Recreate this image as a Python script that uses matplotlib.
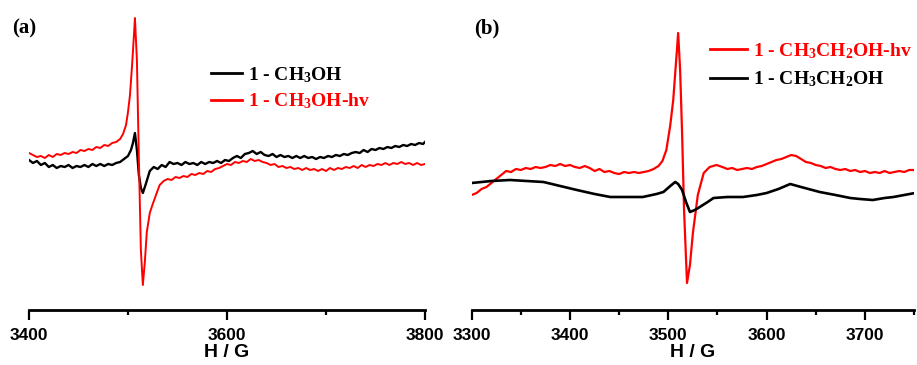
import matplotlib
matplotlib.use("Agg")
import matplotlib.pyplot as plt
from matplotlib.ticker import MultipleLocator

plt.rcParams['mathtext.default'] = 'regular'

# ---- panel (a) data: field (G) and EPR signal (a.u.) ----
H_a_black = [3400, 3404, 3408, 3412, 3416, 3420, 3424, 3428, 3432, 3436, 3440, 3444,
             3448, 3452, 3456, 3460, 3464, 3468, 3472, 3476, 3480, 3484, 3488, 3492,
             3496, 3500, 3503, 3505, 3507, 3509, 3511, 3513, 3515, 3518, 3522, 3526,
             3530, 3534, 3538, 3542, 3546, 3550, 3554, 3558, 3562, 3566, 3570, 3574,
             3578, 3582, 3586, 3590, 3594, 3598, 3602, 3606, 3610, 3614, 3618, 3622,
             3626, 3630, 3634, 3638, 3642, 3646, 3650, 3654, 3658, 3662, 3666, 3670,
             3674, 3678, 3682, 3686, 3690, 3694, 3698, 3702, 3706, 3710, 3714, 3718,
             3722, 3726, 3730, 3734, 3738, 3742, 3746, 3750, 3754, 3758, 3762, 3766,
             3770, 3774, 3778, 3782, 3786, 3790, 3794, 3798, 3800]
I_a_black = [150, 147, 149, 145, 147, 143, 145, 142, 144, 143, 145, 142,
             144, 143, 145, 143, 146, 144, 146, 144, 146, 145, 147, 148,
             151, 154, 160, 167, 177, 160, 135, 122, 117, 126, 139, 143,
             141, 145, 143, 148, 146, 147, 145, 148, 146, 147, 145, 148,
             146, 148, 147, 149, 147, 150, 149, 152, 154, 152, 156, 157,
             159, 156, 158, 155, 154, 156, 153, 155, 153, 154, 152, 154,
             152, 154, 152, 153, 151, 153, 152, 154, 153, 155, 154, 156,
             155, 157, 158, 157, 160, 158, 161, 160, 162, 161, 163, 162,
             164, 163, 165, 164, 166, 165, 167, 166, 168]

H_a_red = [3400, 3404, 3408, 3412, 3416, 3420, 3424, 3428, 3432, 3436, 3440, 3444,
           3448, 3452, 3456, 3460, 3464, 3468, 3472, 3476, 3480, 3484, 3488, 3492,
           3495, 3498, 3500, 3502, 3504, 3506, 3507, 3509, 3511, 3513, 3515, 3517,
           3519, 3522, 3525, 3529, 3532, 3536, 3540, 3544, 3548, 3552, 3556, 3560,
           3564, 3568, 3572, 3576, 3580, 3584, 3588, 3592, 3596, 3600, 3604, 3608,
           3612, 3616, 3620, 3624, 3628, 3632, 3636, 3640, 3644, 3648, 3652, 3656,
           3660, 3664, 3668, 3672, 3676, 3680, 3684, 3688, 3692, 3696, 3700, 3704,
           3708, 3712, 3716, 3720, 3724, 3728, 3732, 3736, 3740, 3744, 3748, 3752,
           3756, 3760, 3764, 3768, 3772, 3776, 3780, 3784, 3788, 3792, 3796, 3800]
I_a_red = [157, 155, 153, 154, 152, 155, 153, 156, 155, 157, 156, 158,
           157, 160, 159, 161, 160, 163, 162, 165, 164, 167, 168, 171,
           176, 185, 198, 215, 243, 275, 292, 250, 150, 60, 25, 48,
           78, 97, 106, 117, 125, 129, 131, 130, 133, 132, 134, 133,
           136, 135, 137, 136, 139, 138, 141, 142, 144, 146, 145, 148,
           147, 149, 148, 151, 149, 150, 148, 147, 145, 146, 143, 144,
           142, 143, 141, 142, 140, 142, 140, 141, 139, 141, 139, 142,
           140, 142, 141, 143, 142, 144, 142, 145, 143, 145, 144, 146,
           145, 147, 145, 147, 146, 148, 146, 147, 145, 147, 145, 146]

# ---- panel (b) data ----
H_b_red = [3300, 3305, 3310, 3315, 3320, 3325, 3330, 3335, 3340, 3345, 3350, 3355,
           3360, 3365, 3370, 3375, 3380, 3385, 3390, 3395, 3400, 3405, 3410, 3415,
           3420, 3425, 3430, 3435, 3440, 3445, 3450, 3455, 3460, 3465, 3470, 3475,
           3480, 3485, 3490, 3494, 3498, 3502, 3505, 3508, 3510, 3512, 3514, 3516,
           3519, 3522, 3525, 3530, 3536, 3542, 3549, 3555, 3560, 3565, 3570, 3575,
           3580, 3585, 3590, 3595, 3600, 3605, 3610, 3615, 3620, 3625, 3630, 3635,
           3640, 3645, 3650, 3655, 3660, 3665, 3670, 3675, 3680, 3685, 3690, 3695,
           3700, 3705, 3710, 3715, 3720, 3725, 3730, 3735, 3740, 3745, 3751]
I_b_red = [115, 117, 121, 123, 127, 131, 135, 139, 138, 141, 140, 142,
           141, 143, 142, 143, 145, 144, 146, 144, 145, 143, 142, 144,
           142, 139, 141, 138, 139, 137, 136, 138, 137, 138, 137, 138,
           139, 141, 144, 149, 160, 185, 210, 250, 277, 240, 177, 100,
           27, 45, 77, 115, 137, 143, 145, 143, 141, 142, 140, 141,
           142, 141, 143, 144, 146, 148, 150, 151, 153, 155, 154, 151,
           148, 147, 145, 144, 142, 143, 141, 140, 141, 139, 140, 138,
           139, 137, 138, 137, 139, 137, 138, 139, 138, 140, 140]

H_b_black = [3300, 3320, 3339, 3356, 3373, 3390, 3407, 3425, 3441, 3460, 3474, 3488,
             3495, 3502, 3507, 3510, 3514, 3518, 3522, 3527, 3532, 3540, 3546, 3560,
             3576, 3590, 3600, 3612, 3624, 3635, 3654, 3670, 3685, 3695, 3708, 3720,
             3729, 3740, 3751]
I_b_black = [127, 129, 130, 129, 128, 124, 120, 116, 113, 113, 113, 116,
             118, 124, 128, 126, 120, 108, 98, 100, 103, 108, 112, 113,
             113, 115, 117, 121, 126, 123, 118, 115, 112, 111, 110, 112,
             113, 115, 117]

W, Hpx = 917, 365
fig = plt.figure(figsize=(W / 100, Hpx / 100), dpi=100)

def setup_axis(ax, xmin, xmax, major, minor):
    ax.set_xlim(xmin, xmax)
    ax.set_ylim(0, 295)
    for s in ['top', 'right', 'left']:
        ax.spines[s].set_visible(False)
    ax.spines['bottom'].set_linewidth(2)
    ax.set_yticks([])
    ax.xaxis.set_major_locator(MultipleLocator(major))
    ax.xaxis.set_minor_locator(MultipleLocator(minor))
    ax.tick_params(axis='x', which='major', length=7, width=1.6, pad=6)
    ax.tick_params(axis='x', which='minor', length=3.5, width=1.6)
    for t in ax.get_xticklabels():
        t.set_fontfamily('Liberation Sans')
        t.set_fontweight('bold')
        t.set_fontsize(12.5)
    ax.set_xlabel('H / G', fontfamily='Liberation Sans', fontweight='bold',
                  fontsize=14, labelpad=1)
    ax.patch.set_visible(False)

# panel (a)
ax1 = fig.add_axes([29 / W, 55 / Hpx, 396 / W, 295 / Hpx])
ax1.plot(H_a_black, I_a_black, color='black', lw=1.7, label='1 - CH$_3$OH')
ax1.plot(H_a_red, I_a_red, color='red', lw=1.4, label='1 - CH$_3$OH-hv')
setup_axis(ax1, 3400, 3800, 200, 100)
leg1 = ax1.legend(loc='center left', bbox_to_anchor=(211 / W, 1 - 88 / Hpx),
                  bbox_transform=fig.transFigure, frameon=False, borderpad=0,
                  borderaxespad=0, handlelength=1.6, handletextpad=0.3,
                  labelspacing=0.35, labelcolor='linecolor',
                  prop={'family': 'Liberation Serif', 'weight': 'bold', 'size': 14})
for l in leg1.get_lines():
    l.set_linewidth(2)

# panel (b)
ax2 = fig.add_axes([471.7 / W, 55 / Hpx, 442.4 / W, 295 / Hpx])
ax2.plot(H_b_red, I_b_red, color='red', lw=1.6, label='1 - CH$_3$CH$_2$OH-hv')
ax2.plot(H_b_black, I_b_black, color='black', lw=1.9, label='1 - CH$_3$CH$_2$OH')
setup_axis(ax2, 3300, 3750, 100, 50)
leg2 = ax2.legend(loc='center left', bbox_to_anchor=(710 / W, 1 - 65 / Hpx),
                  bbox_transform=fig.transFigure, frameon=False, borderpad=0,
                  borderaxespad=0, handlelength=1.9, handletextpad=0.3,
                  labelspacing=0.45, labelcolor='linecolor',
                  prop={'family': 'Liberation Serif', 'weight': 'bold', 'size': 14})
for l in leg2.get_lines():
    l.set_linewidth(2)

# panel labels
fig.text(12 / W, 1 - 28 / Hpx, '(a)', fontfamily='Liberation Serif',
         fontweight='bold', fontsize=15, va='center', ha='left')
fig.text(474 / W, 1 - 28 / Hpx, '(b)', fontfamily='Liberation Serif',
         fontweight='bold', fontsize=15, va='center', ha='left')

fig.savefig('out.png', dpi=100)
